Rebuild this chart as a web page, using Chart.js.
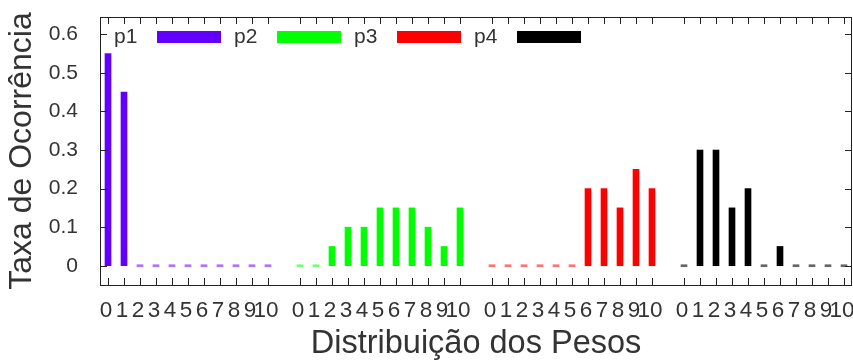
<!DOCTYPE html>
<html>
<head>
<meta charset="utf-8">
<script src="https://cdn.jsdelivr.net/npm/chart.js@4/dist/chart.umd.min.js"></script>
<style>
  html, body { margin: 0; padding: 0; background: #fff; }
  #wrap { width: 853px; height: 361px; }
</style>
</head>
<body>
<div id="wrap"><canvas id="myChart" width="853" height="361"></canvas></div>
<script>
// pesos 0..10, uma distribuicao por serie
const weights = ['0', '1', '2', '3', '4', '5', '6', '7', '8', '9', '10'];
const seriesNames = ['p1', 'p2', 'p3', 'p4'];
const p1 = [0.55, 0.45, 0, 0, 0, 0, 0, 0, 0, 0, 0];
const p2 = [0, 0, 0.05, 0.1, 0.1, 0.15, 0.15, 0.15, 0.1, 0.05, 0.15];
const p3 = [0, 0, 0, 0, 0, 0, 0.2, 0.2, 0.15, 0.25, 0.2];
const p4 = [0, 0.3, 0.3, 0.15, 0.2, 0, 0.05, 0, 0, 0, 0];
const yTicks = [0, 0.1, 0.2, 0.3, 0.4, 0.5, 0.6];

const colors = ['#6200ff', '#00ff00', '#ff0000', '#000000'];
const zeroColors = ['rgba(98,0,255,0.55)', 'rgba(0,255,0,0.55)', 'rgba(255,0,0,0.55)', 'rgba(0,0,0,0.6)'];
const textColor = '#333';
const fontFamily = "'Liberation Sans', Arial, sans-serif";

const groupSize = weights.length + 1;
const allSeries = [p1, p2, p3, p4];
const xPositions = [];
const xLabels = {};
allSeries.forEach((s, g) => {
    weights.forEach((w, i) => {
        xPositions.push(g * groupSize + i);
        xLabels[g * groupSize + i] = w;
    });
});

const datasets = allSeries.map((s, g) => ({
    label: seriesNames[g],
    data: s.map((v, i) => ({ x: g * groupSize + i, y: v })),
    backgroundColor: ctx => (ctx.raw && ctx.raw.y === 0 ? zeroColors[g] : colors[g]),
    borderWidth: 0,
    barThickness: 6,
    minBarLength: 2,
    grouped: false
}));

// borda, ticks para dentro e legenda no estilo gnuplot
const framePlugin = {
    id: 'frame',
    afterDatasetsDraw(chart) {
        const ctx = chart.ctx;
        const a = chart.chartArea;
        const xs = chart.scales.x;
        const ys = chart.scales.y;
        const tl = 7;
        ctx.save();
        ctx.strokeStyle = '#222';
        ctx.lineWidth = 1;
        ctx.beginPath();
        xPositions.forEach(p => {
            const px = Math.round(xs.getPixelForValue(p)) + 0.5;
            ctx.moveTo(px, a.bottom);
            ctx.lineTo(px, a.bottom - tl);
            ctx.moveTo(px, a.top);
            ctx.lineTo(px, a.top + tl);
        });
        yTicks.forEach(v => {
            const py = Math.round(ys.getPixelForValue(v)) + 0.5;
            ctx.moveTo(a.left, py);
            ctx.lineTo(a.left + tl, py);
            ctx.moveTo(a.right, py);
            ctx.lineTo(a.right - tl, py);
        });
        ctx.stroke();
        ctx.strokeRect(Math.round(a.left) + 0.5, Math.round(a.top) + 0.5,
            Math.round(a.right - a.left) - 1, Math.round(a.bottom - a.top));

        ctx.font = '21px ' + fontFamily;
        ctx.textBaseline = 'middle';
        ctx.textAlign = 'left';
        seriesNames.forEach((name, k) => {
            const x0 = a.left + 14 + k * 120;
            const y0 = a.top + 20;
            ctx.fillStyle = textColor;
            ctx.fillText(name, x0, y0);
            ctx.fillStyle = colors[k];
            ctx.fillRect(x0 + 43, y0 - 6, 64, 12);
        });
        ctx.restore();
    }
};

const ctx = document.getElementById('myChart').getContext('2d');
const myChart = new Chart(ctx, {
    type: 'bar',
    data: { datasets: datasets },
    options: {
        responsive: false,
        animation: false,
        layout: { padding: { top: 17, right: 1, left: 0, bottom: 0 } },
        plugins: {
            legend: { display: false },
            tooltip: { enabled: false }
        },
        scales: {
            x: {
                type: 'linear',
                min: -0.5,
                max: 46.5,
                offset: false,
                grid: { display: false, drawTicks: false },
                border: { display: false },
                afterBuildTicks: scale => {
                    scale.ticks = xPositions.map(p => ({ value: p }));
                },
                afterFit: scale => {
                    scale.height = 76;
                    scale.paddingLeft = 0;
                    scale.paddingRight = 0;
                },
                ticks: {
                    autoSkip: false,
                    maxRotation: 0,
                    minRotation: 0,
                    padding: 12,
                    labelOffset: -2,
                    color: textColor,
                    font: { family: fontFamily, size: 22.5 },
                    callback: value => xLabels[value] ?? ''
                },
                title: {
                    display: true,
                    text: 'Distribuição dos Pesos',
                    color: textColor,
                    font: { family: fontFamily, size: 32.5, lineHeight: 1 },
                    padding: { top: 0, bottom: 1 }
                }
            },
            y: {
                min: -0.05,
                max: 0.645,
                grid: { display: false, drawTicks: false },
                border: { display: false },
                afterBuildTicks: scale => {
                    scale.ticks = yTicks.map(v => ({ value: v }));
                },
                afterFit: scale => {
                    scale.width = 100;
                    scale.paddingTop = 0;
                    scale.paddingBottom = 0;
                },
                ticks: {
                    padding: 22,
                    color: textColor,
                    font: { family: fontFamily, size: 21 },
                    callback: value => String(Math.round(value * 10) / 10)
                },
                title: {
                    display: true,
                    text: 'Taxa de Ocorrência',
                    color: textColor,
                    font: { family: fontFamily, size: 32, lineHeight: 1 },
                    padding: { top: 6, bottom: 0 }
                }
            }
        }
    },
    plugins: [framePlugin]
});
</script>
</body>
</html>
